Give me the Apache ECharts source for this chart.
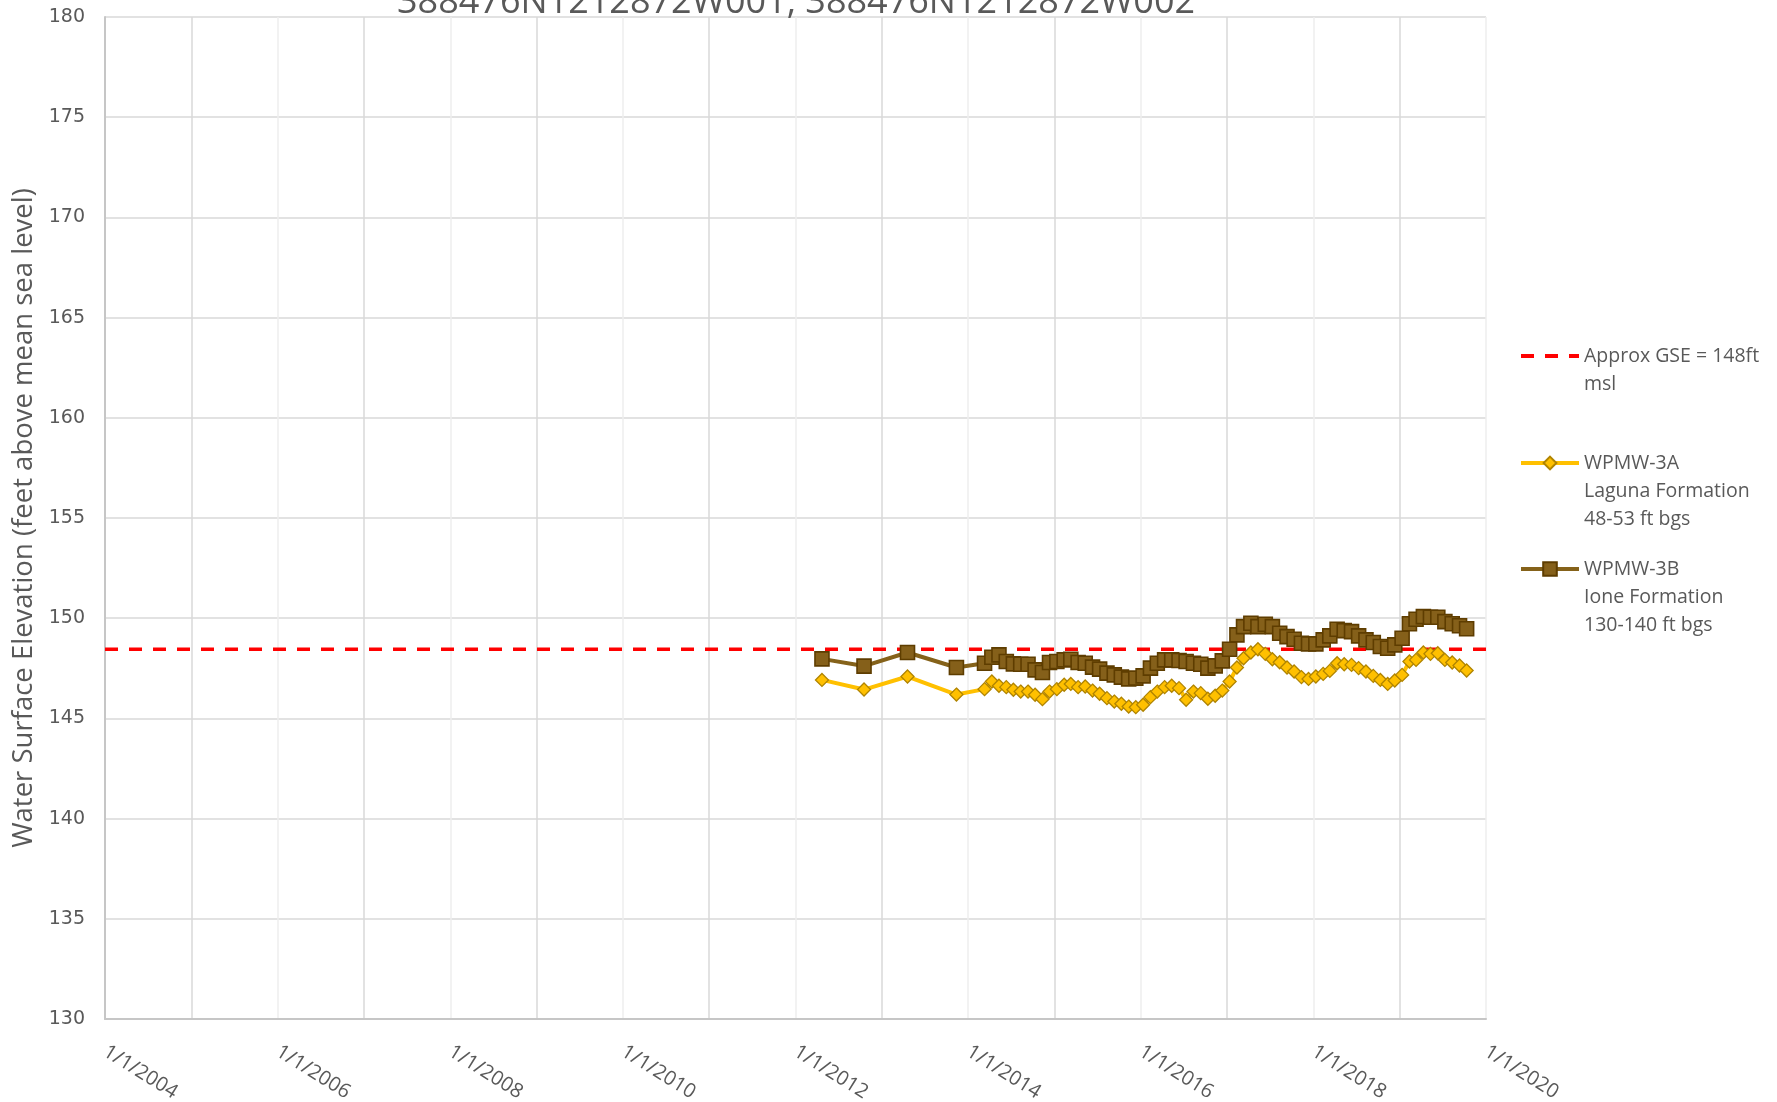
<!DOCTYPE html>
<html>
<head>
<meta charset="utf-8">
<script src="https://cdn.jsdelivr.net/npm/echarts@6/dist/echarts.min.js"></script>
<style>
  html, body { margin: 0; padding: 0; background: #fff; }
  #chart { width: 1777px; height: 1102px; }
</style>
</head>
<body>
<div id="chart"></div>
<script>
// Water levels, WPMW-3A / WPMW-3B
const titleText = '388476N1212872W001, 388476N1212872W002';
const yAxisName = 'Water Surface Elevation (feet above mean sea level)';

const sampleDates = [
  '2012-04-22', '2012-10-17', '2013-04-19', '2013-11-12',
  '2014-03-11', '2014-04-11', '2014-05-11', '2014-06-11', '2014-07-11', '2014-08-11', '2014-09-11', '2014-10-11', '2014-11-11', '2014-12-11',
  '2015-01-11', '2015-02-11', '2015-03-11', '2015-04-11', '2015-05-11', '2015-06-11', '2015-07-11', '2015-08-11', '2015-09-11', '2015-10-11', '2015-11-11', '2015-12-11',
  '2016-01-11', '2016-02-11', '2016-03-11', '2016-04-11', '2016-05-11', '2016-06-11', '2016-07-11', '2016-08-11', '2016-09-11', '2016-10-11', '2016-11-11', '2016-12-11',
  '2017-01-11', '2017-02-11', '2017-03-11', '2017-04-11', '2017-05-11', '2017-06-11', '2017-07-11', '2017-08-11', '2017-09-11', '2017-10-11', '2017-11-11', '2017-12-11',
  '2018-01-11', '2018-02-11', '2018-03-11', '2018-04-11', '2018-05-11', '2018-06-11', '2018-07-11', '2018-08-11', '2018-09-11', '2018-10-11', '2018-11-11', '2018-12-11',
  '2019-01-11', '2019-02-11', '2019-03-11', '2019-04-11', '2019-05-11', '2019-06-11', '2019-07-11', '2019-08-11', '2019-09-11', '2019-10-11'
];

// WPMW-3A Laguna Formation
const wpmw3a = [
  146.92, 146.44, 147.09, 146.19,
  146.46, 146.84, 146.63, 146.56, 146.43, 146.34, 146.34, 146.18, 145.96, 146.34,
  146.46, 146.68, 146.72, 146.56, 146.59, 146.39, 146.23, 146.01, 145.84, 145.73, 145.59, 145.56,
  145.68, 146.06, 146.34, 146.56, 146.63, 146.51, 145.93, 146.34, 146.26, 145.98, 146.13, 146.39,
  146.84, 147.54, 148.00, 148.29, 148.45, 148.22, 147.95, 147.80, 147.54, 147.34, 147.06, 146.97,
  147.09, 147.22, 147.37, 147.75, 147.70, 147.67, 147.51, 147.34, 147.12, 146.92, 146.72, 146.89,
  147.17, 147.84, 147.92, 148.29, 148.22, 148.25, 147.92, 147.79, 147.64, 147.39
];

// WPMW-3B Ione Formation
const wpmw3b = [
  147.97, 147.61, 148.29, 147.54,
  147.75, 148.05, 148.17, 147.84, 147.72, 147.70, 147.70, 147.42, 147.29, 147.79,
  147.84, 147.92, 147.95, 147.79, 147.75, 147.56, 147.46, 147.26, 147.17, 147.06, 146.97, 147.01,
  147.12, 147.51, 147.75, 147.92, 147.92, 147.89, 147.84, 147.75, 147.70, 147.51, 147.62, 147.87,
  148.45, 149.17, 149.58, 149.75, 149.58, 149.70, 149.58, 149.25, 149.08, 148.95, 148.75, 148.72,
  148.72, 148.92, 149.12, 149.45, 149.38, 149.33, 149.12, 148.92, 148.79, 148.59, 148.50, 148.67,
  149.00, 149.72, 149.95, 150.08, 150.05, 150.05, 149.83, 149.72, 149.62, 149.47
];

const gseDates = ['2004-01-01', '2020-01-01'];
const gseValues = [148.45, 148.45];

// leading blank lines keep the first line level with the legend icon
const legendLabels = {
  'GSE': '\nApprox GSE = 148ft\nmsl',
  '3A': '\n\nWPMW-3A\nLaguna Formation\n48-53 ft bgs',
  '3B': '\n\nWPMW-3B\nIone Formation\n130-140 ft bgs'
};

const textColor = '#595959';
const lh = 28;

const chart = echarts.init(document.getElementById('chart'));

function pairs(dates, vals) {
  return dates.map((d, i) => [d, vals[i]]);
}

function legendAt(name, iconY, lines, iconH) {
  return {
    left: 1519,
    top: iconY - lines * lh / 2,
    padding: 0,
    itemWidth: 58,
    itemHeight: iconH,
    itemGap: 0,
    textGap: 6,
    selectedMode: false,
    formatter: (n) => legendLabels[n],
    lineStyle: { width: 4 },
    textStyle: { color: textColor, fontSize: 19.5, fontFamily: 'Open Sans', lineHeight: lh },
    data: [name]
  };
}

const option = {
  backgroundColor: '#fff',
  animation: false,
  title: {
    text: titleText,
    left: 397,
    top: -15,
    padding: 0,
    textStyle: { color: textColor, fontSize: 36, fontWeight: 'normal', fontFamily: 'Open Sans' }
  },
  legend: [
    legendAt('GSE', 356, 3, 14),
    legendAt('3A', 463, 5, 16),
    legendAt('3B', 569, 5, 17)
  ],
  grid: { left: 105, right: 291, top: 17, bottom: 83, containLabel: false, outerBoundsMode: 'none' },
  xAxis: {
    type: 'time',
    min: '2004-01-01',
    max: '2020-01-01',
    splitNumber: 16,
    axisLine: { show: true, lineStyle: { color: '#c6c6c6', width: 2 } },
    axisTick: { show: false },
    axisLabel: {
      rotate: -32,
      margin: 31,
      color: textColor,
      fontSize: 20,
      fontFamily: 'Open Sans',
      hideOverlap: false,
      showMinLabel: true,
      showMaxLabel: true,
      formatter: (v) => {
        const d = new Date(v);
        const y = d.getFullYear();
        return y % 2 === 0 ? '1/1/' + y : '';
      }
    },
    splitLine: { show: true, lineStyle: { color: ['#d9d9d9', '#eeeeee'], width: 1.5 } }
  },
  yAxis: {
    type: 'value',
    min: 130,
    max: 180,
    interval: 5,
    name: yAxisName,
    nameLocation: 'middle',
    nameGap: 64,
    nameTextStyle: { color: textColor, fontSize: 27.5, fontFamily: 'Open Sans' },
    axisLine: { show: true, lineStyle: { color: '#c6c6c6', width: 2 } },
    axisTick: { show: false },
    axisLabel: { color: textColor, fontSize: 19, fontFamily: 'DejaVu Sans', margin: 20 },
    splitLine: { lineStyle: { color: '#d9d9d9', width: 1.5 } }
  },
  series: [
    {
      name: 'GSE',
      type: 'line',
      data: pairs(gseDates, gseValues),
      showSymbol: false,
      symbol: 'none',
      lineStyle: { color: '#ff0000', width: 3.5, type: [13, 11], cap: 'butt' },
      itemStyle: { color: '#ff0000', opacity: 0 },
      z: 2
    },
    {
      name: '3A',
      type: 'line',
      data: pairs(sampleDates, wpmw3a),
      symbol: 'diamond',
      symbolSize: 13,
      lineStyle: { color: '#ffc000', width: 4 },
      itemStyle: { color: '#ffc000', borderColor: '#b08400', borderWidth: 1.3 },
      z: 3
    },
    {
      name: '3B',
      type: 'line',
      data: pairs(sampleDates, wpmw3b),
      symbol: 'rect',
      symbolSize: 14,
      lineStyle: { color: '#85621a', width: 4 },
      itemStyle: { color: '#85601a', borderColor: '#5e3d00', borderWidth: 1.6 },
      z: 4
    }
  ]
};

chart.setOption(option);
</script>
</body>
</html>
